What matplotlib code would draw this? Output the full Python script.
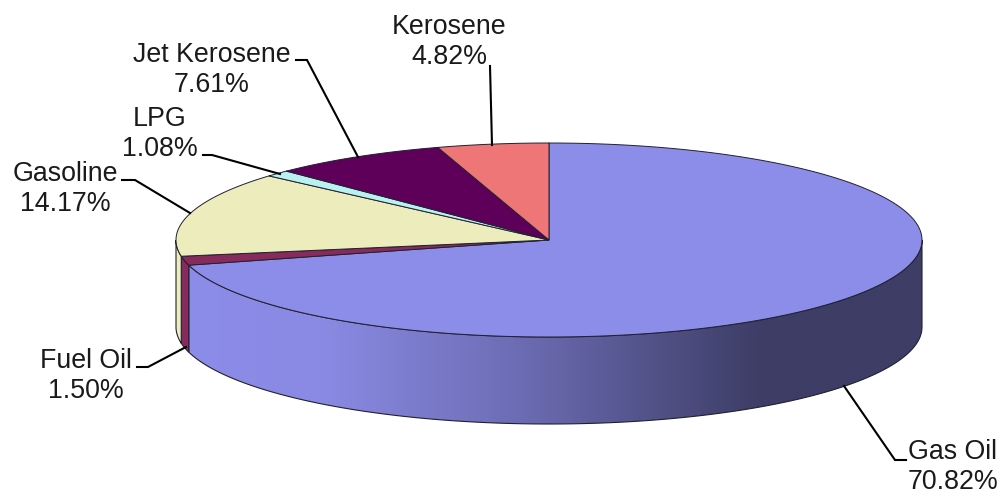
import numpy as np
import matplotlib
matplotlib.use('Agg')
import matplotlib.pyplot as plt
from matplotlib.colors import LinearSegmentedColormap
from matplotlib.patches import Polygon

plt.rcParams['font.family'] = ['Liberation Sans', 'DejaVu Sans']

# values clockwise from 12 o'clock
names = ['Gas Oil', 'Fuel Oil', 'Gasoline', 'LPG', 'Jet Kerosene', 'Kerosene']
values = [70.82, 1.50, 14.17, 1.08, 7.61, 4.82]
colors = ['#8C8CE9', '#872A5C', '#ECECBC', '#B9F1F1', '#5E0059', '#EE7676']

# pie geometry in image pixels
cx, cy = 549, 240
rx, ry = 373, 97
depth = 87
edge = '#202030'

label_xy = [(953, 467), (86, 376), (65, 189), (160, 134), (212, 70), (449, 42)]
leaders = [
    [(844, 386), (895, 460), (906, 460)],
    [(137, 367), (148, 367), (186, 347)],
    [(122, 180), (135, 180), (190, 213)],
    [(203, 155), (212, 155), (280, 174)],
    [(296, 60), (307, 60), (358, 157)],
    [(490, 66), (492, 145)],
]


def rim(a0, a1, dy=0):
    t = np.radians(np.linspace(a0, a1, 200))
    return np.column_stack([cx + rx * np.sin(t), cy + dy - ry * np.cos(t)])


fig = plt.figure(figsize=(10.04, 4.96), dpi=100)
ax = fig.add_axes([0, 0, 1, 1])
ax.set_xlim(0, 1004)
ax.set_ylim(496, 0)
ax.axis('off')

bounds = np.concatenate([[0], np.cumsum(values)]) / sum(values) * 360

# side wall, only the front half can be seen
shade = LinearSegmentedColormap.from_list(
    'side', [(0, '#8C8CE9'), (0.18, '#8A8AE4'), (0.45, '#6C6CB4'),
             (0.78, '#3D3D66'), (1, '#3D3D66')])
for i in range(len(values)):
    a0 = max(bounds[i], 90)
    a1 = min(bounds[i + 1], 270)
    if a1 <= a0:
        continue
    pts = np.vstack([rim(a0, a1), rim(a1, a0, depth)])
    if i == 0:
        x0, x1 = pts[:, 0].min(), pts[:, 0].max()
        im = ax.imshow(np.linspace(0, 1, 400)[None, :], cmap=shade,
                       extent=[x0, x1, 496, 0], aspect='auto', zorder=1)
        clip = Polygon(pts, transform=ax.transData, fc='none', ec='none')
        ax.add_patch(clip)
        im.set_clip_path(clip)
        ax.add_patch(Polygon(pts, fc='none', ec=edge, lw=0.8, zorder=2))
    else:
        ax.add_patch(Polygon(pts, fc=colors[i], ec=edge, lw=0.8, zorder=2))

# top face
for i in range(len(values)):
    pts = np.vstack([[cx, cy], rim(bounds[i], bounds[i + 1])])
    ax.add_patch(Polygon(pts, fc=colors[i], ec=edge, lw=0.7, zorder=3))

ax.set_xlim(0, 1004)
ax.set_ylim(496, 0)

for pts in leaders:
    pts = np.array(pts)
    ax.plot(pts[:, 0], pts[:, 1], color='black', lw=1.5, zorder=4,
            solid_joinstyle='miter')

for name, val, (x, y) in zip(names, values, label_xy):
    ax.text(x, y, f'{name}\n{val:.2f}%', ha='center', va='center',
            fontsize=19.3, color='#1a1a1a', linespacing=1.2, zorder=5,
            clip_on=False)

fig.savefig('out.png', dpi=100)
